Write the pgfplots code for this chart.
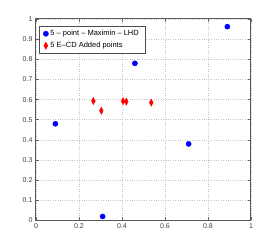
\documentclass[border=0pt]{standalone}
\usepackage{fontspec}
\setmainfont{Liberation Sans}
\usepackage{pgfplots}
\pgfplotsset{compat=1.18}
\begin{document}
\begin{tikzpicture}[x=1pt,y=1pt]
\begin{axis}[
  name=ax,
  at={(0,0)}, anchor=south west,
  scale only axis,
  width=215pt, height=201.5pt,
  xmin=0, xmax=1, ymin=0, ymax=1,
  xtick={0,0.2,...,1}, ytick={0,0.1,...,1},
  xticklabels={0,0.2,0.4,0.6,0.8,1},
  yticklabels={0,0.1,0.2,0.3,0.4,0.5,0.6,0.7,0.8,0.9,1},
  tick align=inside,
  major tick length=3pt,
  tick style={gray!80!black, line width=0.5pt},
  axis line style={gray!70!black, line width=1pt},
  grid=major,
  major grid style={dotted, gray!45, line width=0.5pt},
  tick label style={font=\fontsize{7}{8}\selectfont, text=black!75},
  xtick pos=both, ytick pos=both,
  xticklabel pos=lower, yticklabel pos=left,
  /pgf/number format/assume math mode=true,
  legend style={at={(rel axis cs:0.014,0.965)}, anchor=north west,
    font=\fontsize{7.5}{9}\selectfont, draw=black!70, line width=0.5pt,
    inner xsep=4pt, inner ysep=2pt, row sep=1pt},
  legend cell align=left,
]
\addplot[only marks, mark=*, mark size=2.6pt, color=blue, fill=blue]
  coordinates {(0.09,0.48) (0.31,0.02) (0.46,0.78) (0.89,0.962) (0.71,0.38)};
\addlegendentry{5 -- point -- Maximin -- LHD}
\addplot[only marks, mark=diamond*, mark size=3.6pt, mark options={xscale=0.7}, color=red, fill=red]
  coordinates {(0.267,0.593) (0.304,0.545) (0.405,0.592) (0.42,0.59) (0.536,0.585)};
\addlegendentry{5 E--CD Added points}
\end{axis}
\pgfresetboundingbox
\path (ax.south west) ++(-36pt,-28.5pt) rectangle ++(277pt,249pt);
\end{tikzpicture}
\end{document}
